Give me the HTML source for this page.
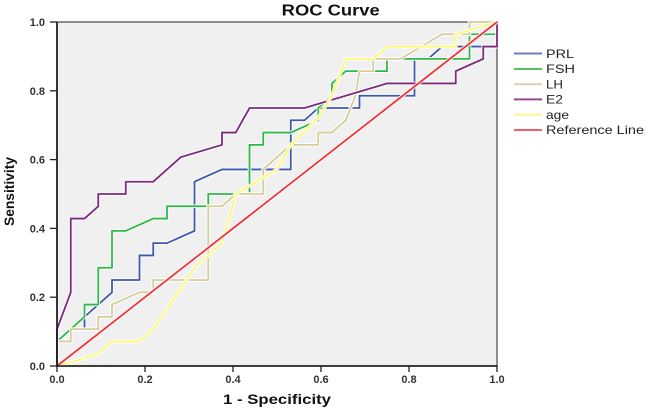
<!DOCTYPE html>
<html>
<head>
<meta charset="utf-8">
<style>
  html, body { margin: 0; padding: 0; background: #ffffff; }
  svg { display: block; }
  text { font-family: "Liberation Sans", Arial, sans-serif; }
</style>
</head>
<body>
<svg width="650" height="412" viewBox="0 0 650 412" xmlns="http://www.w3.org/2000/svg">
  <rect x="0" y="0" width="650" height="412" fill="#ffffff"/>

  <!-- Title -->
  <text x="281.7" y="15.7" font-size="16" font-weight="bold" fill="#111" textLength="98" lengthAdjust="spacingAndGlyphs">ROC Curve</text>

  <!-- Plot area -->
  <rect x="57" y="22" width="440" height="344" fill="#f0f0f0" stroke="#555" stroke-width="1.3"/>

  <!-- Series (data coords: x in 1/32, y in 1/28) -->
  <g transform="translate(57,366) scale(13.75,-12.285714)" fill="none" stroke-linejoin="miter">
    <!-- PRL -->
    <polyline vector-effect="non-scaling-stroke" stroke="#ffffff" stroke-width="3.6"
      points="0,2 1,2 1,3 2,3 2,4 4,6 4,7 6,7 6,9 7,9 7,10 8,10 10,11 10,15 12,16 17,16 17,20 18,20 19,21 22,21 22,22 26,22 26,25 27,25 28,26 32,26 32,28"/>
    <polyline vector-effect="non-scaling-stroke" stroke="#3e58ac" stroke-width="1.8"
      points="0,2 1,2 1,3 2,3 2,4 4,6 4,7 6,7 6,9 7,9 7,10 8,10 10,11 10,15 12,16 17,16 17,20 18,20 19,21 22,21 22,22 26,22 26,25 27,25 28,26 32,26 32,28"/>
    <!-- FSH -->
    <polyline vector-effect="non-scaling-stroke" stroke="#ffffff" stroke-width="3.6"
      points="0,2 2,4 2,5 3,5 3,8 4,8 4,11 5,11 7,12 8,12 8,13 11,13 11,14 14,14 14,18 15,18 15,19 17,19 19,20 19,21 20,22 20,23 21,24 24,24 24,25 30,25 30,27 32,27 32,28"/>
    <polyline vector-effect="non-scaling-stroke" stroke="#2eb848" stroke-width="1.8"
      points="0,2 2,4 2,5 3,5 3,8 4,8 4,11 5,11 7,12 8,12 8,13 11,13 11,14 14,14 14,18 15,18 15,19 17,19 19,20 19,21 20,22 20,23 21,24 24,24 24,25 30,25 30,27 32,27 32,28"/>
    <!-- LH -->
    <polyline vector-effect="non-scaling-stroke" stroke="#ffffff" stroke-width="3.6"
      points="0,2 1,2 1,3 3,3 3,4 4,4 4,5 6,6 7,6 7,7 11,7 11,13 12,13 13,14 15,14 15,16 17,18 19,18 19,19 20,19 21,20 21.7,22 22,24 23,24 23,25 25,25 28,27 30,27 30,28 32,28"/>
    <polyline vector-effect="non-scaling-stroke" stroke="#d3ce97" stroke-width="1.8"
      points="0,2 1,2 1,3 3,3 3,4 4,4 4,5 6,6 7,6 7,7 11,7 11,13 12,13 13,14 15,14 15,16 17,18 19,18 19,19 20,19 21,20 21.7,22 22,24 23,24 23,25 25,25 28,27 30,27 30,28 32,28"/>
    <!-- E2 -->
    <polyline vector-effect="non-scaling-stroke" stroke="#ffffff" stroke-width="3.6"
      points="0,0 0,3 1,6 1,12 2,12 3,13 3,14 5,14 5,15 7,15 9,17 12,18 12,19 13,19 14,21 18,21 24,23 29,23 29,24 31,25 31,26 32,26 32,28"/>
    <polyline vector-effect="non-scaling-stroke" stroke="#7c287d" stroke-width="1.8"
      points="0,0 0,3 1,6 1,12 2,12 3,13 3,14 5,14 5,15 7,15 9,17 12,18 12,19 13,19 14,21 18,21 24,23 29,23 29,24 31,25 31,26 32,26 32,28"/>
    <!-- age -->
    <polyline vector-effect="non-scaling-stroke" stroke="#ffffff" stroke-width="3.6"
      points="0,0 1,0.3 3,1 4,2 6,2 7,3 10,8 12,10 13,14 16,16 17,18 19,20.2 20,22 21,25 23,25 24,26 29,26 29,27 32,28"/>
    <polyline vector-effect="non-scaling-stroke" stroke="#fbf873" stroke-width="1.8"
      points="0,0 1,0.3 3,1 4,2 6,2 7,3 10,8 12,10 13,14 16,16 17,18 19,20.2 20,22 21,25 23,25 24,26 29,26 29,27 32,28"/>
    <!-- Reference -->
    <polyline vector-effect="non-scaling-stroke" stroke="#ffffff" stroke-width="3.6" points="0,0 32,28"/>
    <polyline vector-effect="non-scaling-stroke" stroke="#ef3338" stroke-width="1.8" points="0,0 32,28"/>
  </g>

  <!-- Axes -->
  <line x1="57" y1="22" x2="57" y2="366.8" stroke="#111" stroke-width="1.6"/>
  <line x1="56.2" y1="366" x2="497.6" y2="366" stroke="#111" stroke-width="1.6"/>

  <!-- Y ticks -->
  <g stroke="#222" stroke-width="1.3">
    <line x1="50" y1="366" x2="57" y2="366"/>
    <line x1="50" y1="297.2" x2="57" y2="297.2"/>
    <line x1="50" y1="228.4" x2="57" y2="228.4"/>
    <line x1="50" y1="159.6" x2="57" y2="159.6"/>
    <line x1="50" y1="90.8" x2="57" y2="90.8"/>
    <line x1="50" y1="22" x2="57" y2="22"/>
  </g>
  <g font-size="11" font-weight="bold" fill="#333" text-anchor="end">
    <text x="45" y="370">0.0</text>
    <text x="45" y="301.2">0.2</text>
    <text x="45" y="232.4">0.4</text>
    <text x="45" y="163.6">0.6</text>
    <text x="45" y="94.8">0.8</text>
    <text x="45" y="26">1.0</text>
  </g>

  <!-- X ticks -->
  <g stroke="#222" stroke-width="1.3">
    <line x1="57" y1="366" x2="57" y2="372"/>
    <line x1="145" y1="366" x2="145" y2="372"/>
    <line x1="233" y1="366" x2="233" y2="372"/>
    <line x1="321" y1="366" x2="321" y2="372"/>
    <line x1="409" y1="366" x2="409" y2="372"/>
    <line x1="497" y1="366" x2="497" y2="372"/>
  </g>
  <g font-size="11" font-weight="bold" fill="#333" text-anchor="middle">
    <text x="57" y="383">0.0</text>
    <text x="145" y="383">0.2</text>
    <text x="233" y="383">0.4</text>
    <text x="321" y="383">0.6</text>
    <text x="409" y="383">0.8</text>
    <text x="497" y="383">1.0</text>
  </g>

  <!-- Axis titles -->
  <text x="223" y="404" font-size="14" font-weight="bold" fill="#111" textLength="108" lengthAdjust="spacingAndGlyphs">1 - Specificity</text>
  <text transform="translate(14,226) rotate(-90)" x="0" y="0" font-size="14" font-weight="bold" fill="#111" textLength="69" lengthAdjust="spacingAndGlyphs">Sensitivity</text>

  <!-- Legend -->
  <g stroke-width="2">
    <line x1="514" y1="53.5" x2="542" y2="53.5" stroke="#6a7fc4"/>
    <line x1="514" y1="69" x2="542" y2="69" stroke="#4fc45f"/>
    <line x1="514" y1="84.2" x2="542" y2="84.2" stroke="#d8d4a6"/>
    <line x1="514" y1="99.4" x2="542" y2="99.4" stroke="#8f4a92"/>
    <line x1="514" y1="114.8" x2="542" y2="114.8" stroke="#fbf88a"/>
    <line x1="514" y1="130" x2="542" y2="130" stroke="#f06266"/>
  </g>
  <g font-size="12" fill="#222">
    <text x="546" y="58" textLength="28" lengthAdjust="spacingAndGlyphs">PRL</text>
    <text x="546" y="73.2" textLength="29" lengthAdjust="spacingAndGlyphs">FSH</text>
    <text x="546" y="88.4" textLength="17" lengthAdjust="spacingAndGlyphs">LH</text>
    <text x="546" y="103.6" textLength="17" lengthAdjust="spacingAndGlyphs">E2</text>
    <text x="546" y="118.8" textLength="23" lengthAdjust="spacingAndGlyphs">age</text>
    <text x="546" y="134" textLength="98" lengthAdjust="spacingAndGlyphs">Reference Line</text>
  </g>
</svg>
</body>
</html>
